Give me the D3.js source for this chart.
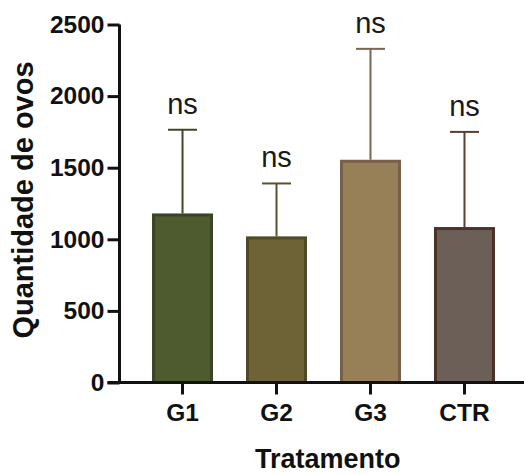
<!DOCTYPE html>
<html>
<head>
<meta charset="utf-8">
<script src="https://cdn.jsdelivr.net/npm/d3@7"></script>
<style>
  body { margin: 0; background: #fff; }
  text { font-family: "Liberation Sans", Arial, sans-serif; }
</style>
</head>
<body>
<div id="chart"></div>
<script>
// data
var groups = ["G1", "G2", "G3", "CTR"];
var means = [1170, 1010, 1545, 1075];
var sdUpper = [1765, 1390, 2330, 1750];
var labels = ["ns", "ns", "ns", "ns"];
var yTicks = [0, 500, 1000, 1500, 2000, 2500];

var fills = ["#4e5b2e", "#6e6237", "#977f57", "#6c5f57"];
var strokes = ["#3b4424", "#4f4a28", "#76604a", "#4a3227"];
var errColors = ["#3e4826", "#58532f", "#7a6552", "#573f33"];

var width = 524, height = 475;

var svg = d3.select("#chart").append("svg")
    .attr("width", width)
    .attr("height", height);

var y = d3.scaleLinear()
    .domain([0, 2500])
    .range([382.5, 24.5]);

var x = d3.scaleBand()
    .domain(groups)
    .range([119.5, 527.5])
    .paddingInner(0.383)
    .paddingOuter(0.362);

//bars
svg.append("g").selectAll("rect")
    .data(groups)
    .enter().append("rect")
    .attr("x", function(d) { return x(d); })
    .attr("y", function(d, i) { return y(means[i]); })
    .attr("width", x.bandwidth())
    .attr("height", function(d, i) { return y(0) - y(means[i]); })
    .attr("fill", function(d, i) { return fills[i]; })
    .attr("stroke", function(d, i) { return strokes[i]; })
    .attr("stroke-width", 3);

//error bars (upper only)
var err = svg.append("g").selectAll("g")
    .data(groups)
    .enter().append("g")
    .attr("stroke", function(d, i) { return errColors[i]; })
    .attr("stroke-width", 2);

err.append("line")
    .attr("x1", function(d) { return x(d) + x.bandwidth() / 2; })
    .attr("x2", function(d) { return x(d) + x.bandwidth() / 2; })
    .attr("y1", function(d, i) { return y(means[i]) - 1.5; })
    .attr("y2", function(d, i) { return y(sdUpper[i]); });

err.append("line")
    .attr("x1", function(d) { return x(d) + x.bandwidth() / 4; })
    .attr("x2", function(d) { return x(d) + x.bandwidth() * 3 / 4; })
    .attr("y1", function(d, i) { return y(sdUpper[i]); })
    .attr("y2", function(d, i) { return y(sdUpper[i]); });

//significance labels
svg.append("g").selectAll("text")
    .data(groups)
    .enter().append("text")
    .attr("x", function(d) { return x(d) + x.bandwidth() / 2; })
    .attr("y", function(d, i) { return y(sdUpper[i]) - 16; })
    .attr("text-anchor", "middle")
    .attr("font-size", "29px")
    .attr("fill", "#1a1a1a")
    .text(function(d, i) { return labels[i]; });

//y axis
var yAxis = svg.append("g")
    .attr("transform", "translate(" + x.range()[0] + ",0)")
    .call(d3.axisLeft(y).tickValues(yTicks).tickFormat(d3.format("d"))
      .tickSize(12).tickSizeOuter(0).tickPadding(3));

//x axis
var xAxis = svg.append("g")
    .attr("transform", "translate(0," + y(0) + ")")
    .call(d3.axisBottom(x).tickSize(12).tickSizeOuter(0).tickPadding(9));
xAxis.select(".domain").attr("d", "M" + (x.range()[0] - 12) + ",0H" + width);

[yAxis, xAxis].forEach(function(a) {
  a.selectAll("path, line").attr("stroke", "#111").attr("stroke-width", 3);
  a.selectAll("text")
      .attr("fill", "#111")
      .attr("font-size", "24.5px")
      .attr("font-weight", "bold")
      .style("font-family", "'Liberation Sans', Arial, sans-serif");
});
yAxis.select(".domain").attr("d", "M0," + y(2500) + "V" + (y(0) + 1.5));

//axis titles
svg.append("text")
    .attr("transform", "translate(33,200) rotate(-90)")
    .attr("text-anchor", "middle")
    .attr("font-size", "29px")
    .attr("font-weight", "bold")
    .attr("fill", "#111")
    .text("Quantidade de ovos");

svg.append("text")
    .attr("x", (x.range()[0] + width) / 2 + 6)
    .attr("y", 468)
    .attr("text-anchor", "middle")
    .attr("font-size", "27px")
    .attr("font-weight", "bold")
    .attr("fill", "#111")
    .text("Tratamento");
</script>
</body>
</html>
